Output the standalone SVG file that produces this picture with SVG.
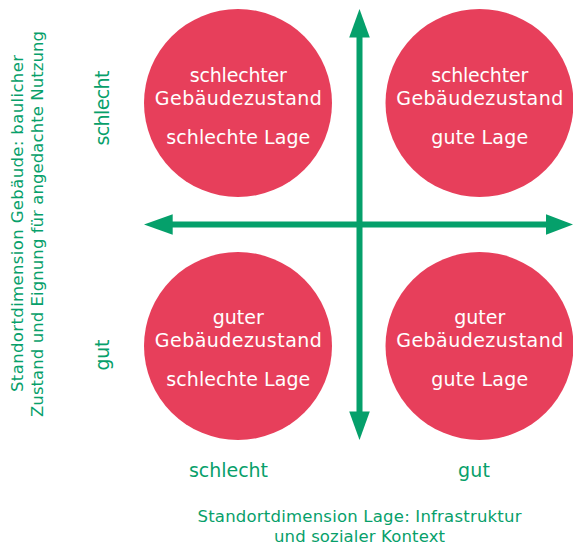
<svg xmlns="http://www.w3.org/2000/svg" width="573" height="547" viewBox="0 0 573 547">
<style>
.c{fill:#E73F5B}
.t{fill:#fff;font-family:"DejaVu Sans","Liberation Sans",sans-serif;font-size:19px;text-anchor:middle}
.g{fill:#07A06A;font-family:"DejaVu Sans","Liberation Sans",sans-serif;text-anchor:middle}
.ax{stroke:#05A06B;stroke-width:6;fill:none}
.ah{fill:#05A06B}
</style>
<rect width="573" height="547" fill="#fff"/>
<g id="n1">
<circle class="c" cx="238" cy="103" r="94"/>
<text class="t" x="238.3" y="81.7" textLength="97" lengthAdjust="spacing">schlechter</text>
<text class="t" x="238.3" y="105" textLength="167" lengthAdjust="spacing">Gebäudezustand</text>
<text class="t" x="238.3" y="144" textLength="144" lengthAdjust="spacing">schlechte Lage</text>
</g>
<g id="n2">
<circle class="c" cx="479.5" cy="103" r="94"/>
<text class="t" x="479.7" y="81.7" textLength="97" lengthAdjust="spacing">schlechter</text>
<text class="t" x="479.7" y="105" textLength="167" lengthAdjust="spacing">Gebäudezustand</text>
<text class="t" x="479.7" y="144" textLength="97" lengthAdjust="spacing">gute Lage</text>
</g>
<g id="n3">
<circle class="c" cx="238" cy="346" r="94"/>
<text class="t" x="238.3" y="324" textLength="51" lengthAdjust="spacing">guter</text>
<text class="t" x="238.3" y="346.7" textLength="167" lengthAdjust="spacing">Gebäudezustand</text>
<text class="t" x="238.3" y="385.7" textLength="144" lengthAdjust="spacing">schlechte Lage</text>
</g>
<g id="n4">
<circle class="c" cx="479.5" cy="346" r="94"/>
<text class="t" x="479.7" y="324" textLength="51" lengthAdjust="spacing">guter</text>
<text class="t" x="479.7" y="346.7" textLength="167" lengthAdjust="spacing">Gebäudezustand</text>
<text class="t" x="479.7" y="385.7" textLength="97" lengthAdjust="spacing">gute Lage</text>
</g>
<g id="connectors">
<line class="ax" x1="359.5" y1="36" x2="359.5" y2="413"/>
<polygon class="ah" points="359.5,9 349.2,37.5 369.8,37.5"/>
<polygon class="ah" points="359.5,440 349.2,411.5 369.8,411.5"/>
<line class="ax" x1="171" y1="224.5" x2="548" y2="224.5"/>
<polygon class="ah" points="144,224.5 172.7,214.2 172.7,234.8"/>
<polygon class="ah" points="573,224.5 546,214.2 546,234.8"/>
</g>
<g id="labels">
<text class="g" x="228.5" y="476.5" font-size="19" textLength="79" lengthAdjust="spacing">schlecht</text>
<text class="g" x="474" y="476.5" font-size="19" textLength="32" lengthAdjust="spacing">gut</text>
<text class="g" x="359.5" y="521.5" font-size="16.5" textLength="324" lengthAdjust="spacing">Standortdimension Lage: Infrastruktur</text>
<text class="g" x="359.5" y="541.5" font-size="16.5" textLength="171" lengthAdjust="spacing">und sozialer Kontext</text>
<text class="g" transform="translate(108.5,108) rotate(-90)" font-size="19" textLength="75" lengthAdjust="spacing">schlecht</text>
<text class="g" transform="translate(108.5,355) rotate(-90)" font-size="19" textLength="31" lengthAdjust="spacing">gut</text>
<text class="g" transform="translate(23,223.5) rotate(-90)" font-size="16.5" textLength="337" lengthAdjust="spacing">Standortdimension Gebäude: baulicher</text>
<text class="g" transform="translate(43,224) rotate(-90)" font-size="16.5" textLength="386" lengthAdjust="spacing">Zustand und Eignung für angedachte Nutzung</text>
</g>
</svg>
